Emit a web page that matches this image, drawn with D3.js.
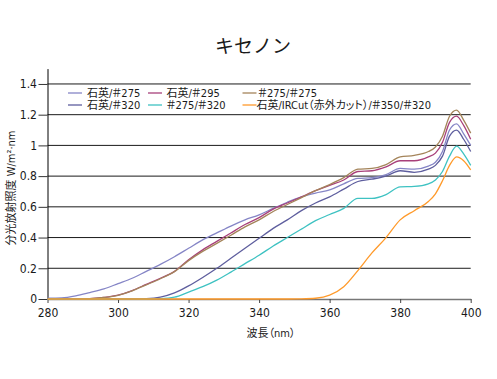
<!DOCTYPE html>
<html>
<head>
<meta charset="utf-8">
<script src="https://cdn.jsdelivr.net/npm/d3@7"></script>
<style>
  html, body { margin: 0; padding: 0; background: #fff; }
  svg { display: block; }
  text { font-family: "Liberation Sans Narrow", "DejaVu Sans Condensed", "Noto Sans CJK JP", sans-serif; }
  .palt { font-feature-settings: "palt"; }
</style>
</head>
<body>
<svg id="chart" width="497" height="379"></svg>
<script>
// ---- data ----
const title = "キセノン";
const xTitle = "波長（nm）";
const yTitle = "分光放射照度 W/m²·nm";
const xTicks = [280, 300, 320, 340, 360, 380, 400];
const yTicks = [0, 0.2, 0.4, 0.6, 0.8, 1, 1.2, 1.4];
const yTickLabels = ["0", "0.2", "0.4", "0.6", "0.8", "1", "1.2", "1.4"];

const wavelengths = [280, 284, 288, 292, 296, 300, 304, 308, 312, 316, 320, 324, 328, 332, 336, 340, 344, 348, 352, 356, 360, 364, 368, 372, 376, 380, 384, 388, 390, 392, 394, 396, 398, 400];

const seriesNames = ["石英/＃275", "石英/＃295", "＃275/＃275", "石英/＃320", "＃275/＃320", "石英/IRCut（赤外カット）/＃350/＃320"];
const seriesColors = ["#8585c6", "#a8407a", "#a4845a", "#5e5e9e", "#3ec2c2", "#ff9a2a"];

const quartz275 = [0.005, 0.007, 0.02, 0.042, 0.066, 0.1, 0.135, 0.18, 0.225, 0.275, 0.33, 0.385, 0.43, 0.475, 0.515, 0.548, 0.59, 0.63, 0.665, 0.69, 0.71, 0.75, 0.785, 0.79, 0.81, 0.85, 0.845, 0.865, 0.89, 0.96, 1.10, 1.14, 1.075, 1.0];
const quartz295 = [0, 0, 0, 0.002, 0.01, 0.025, 0.055, 0.095, 0.135, 0.18, 0.255, 0.32, 0.375, 0.43, 0.485, 0.53, 0.585, 0.625, 0.665, 0.705, 0.74, 0.775, 0.83, 0.835, 0.86, 0.9, 0.9, 0.925, 0.95, 1.02, 1.15, 1.19, 1.13, 1.04];
const f275f275 = [0, 0, 0, 0.002, 0.01, 0.024, 0.053, 0.092, 0.132, 0.178, 0.25, 0.31, 0.362, 0.415, 0.47, 0.515, 0.57, 0.615, 0.66, 0.705, 0.745, 0.79, 0.845, 0.85, 0.875, 0.925, 0.935, 0.96, 0.99, 1.06, 1.19, 1.23, 1.165, 1.08];
const quartz320 = [0, 0, 0, 0, 0, 0, 0, 0.002, 0.012, 0.04, 0.085, 0.14, 0.2, 0.265, 0.33, 0.395, 0.46, 0.515, 0.575, 0.625, 0.665, 0.715, 0.765, 0.78, 0.8, 0.835, 0.825, 0.845, 0.87, 0.93, 1.06, 1.10, 1.04, 0.96];
const f275f320 = [0, 0, 0, 0, 0, 0, 0, 0, 0.002, 0.012, 0.045, 0.08, 0.123, 0.175, 0.23, 0.285, 0.345, 0.4, 0.455, 0.51, 0.55, 0.59, 0.655, 0.655, 0.68, 0.73, 0.733, 0.75, 0.775, 0.83, 0.93, 0.995, 0.945, 0.87];
const irCut = [0, 0, 0, 0, 0, 0, 0, 0, 0, 0, 0, 0, 0, 0, 0, 0, 0, 0, 0.001, 0.005, 0.025, 0.08, 0.185, 0.3, 0.4, 0.515, 0.575, 0.635, 0.685, 0.77, 0.87, 0.925, 0.9, 0.84];

const seriesValues = [quartz275, quartz295, f275f275, quartz320, f275f320, irCut];

// ---- drawing ----
const svg = d3.select("#chart");
const x = d3.scaleLinear().domain([280, 400]).range([47.5, 470.7]);
const y = d3.scaleLinear().domain([0, 1.5]).range([299, 68.6]);

// title
svg.append("text")
  .attr("x", 253).attr("y", 53)
  .attr("text-anchor", "middle")
  .style("font-family", "'Noto Sans CJK JP', sans-serif")
  .style("font-size", "19px")
  .attr("fill", "#1a1a1a")
  .text(title);

// gridlines
svg.append("g").selectAll("line")
  .data(yTicks.filter(d => d > 0))
  .join("line")
  .attr("x1", x(280)).attr("x2", x(400))
  .attr("y1", d => y(d)).attr("y2", d => y(d))
  .attr("stroke", "#1a1a1a").attr("stroke-width", 1);

// y axis
const yAxis = svg.append("g")
  .attr("transform", `translate(${x(280)},0)`)
  .call(d3.axisLeft(y).tickValues(yTicks).tickSize(9).tickSizeOuter(0).tickPadding(1.5)
    .tickFormat((d, i) => yTickLabels[i]));
yAxis.select(".domain").attr("stroke", "#000");
yAxis.selectAll(".tick line").attr("stroke", "#333");
yAxis.selectAll("text").style("font-size", "12px").attr("fill", "#1a1a1a");

// x axis
const xAxis = svg.append("g")
  .attr("transform", `translate(0,${y(0)})`)
  .call(d3.axisBottom(x).tickValues(xTicks).tickSize(4).tickSizeOuter(0).tickPadding(5.3));
xAxis.select(".domain").attr("stroke", "#777").attr("stroke-width", 1.5);
xAxis.selectAll(".tick line").attr("stroke", "#444");
xAxis.selectAll("text").style("font-size", "12px").attr("fill", "#1a1a1a");

// series
const line = d3.line()
  .x((d, i) => x(wavelengths[i]))
  .y(d => y(d))
  .curve(d3.curveMonotoneX);

svg.append("g").selectAll("path")
  .data(seriesValues)
  .join("path")
  .attr("d", d => line(d))
  .attr("fill", "none")
  .attr("stroke", (d, i) => seriesColors[i])
  .attr("stroke-width", 1.3);

// legend
const legendPos = [
  { lx: 68, tx: 87, y: 93 },
  { lx: 148, tx: 166.5, y: 93 },
  { lx: 242.5, tx: 258, y: 93 },
  { lx: 68, tx: 87, y: 105 },
  { lx: 148, tx: 166.5, y: 105 },
  { lx: 242.5, tx: 256.5, y: 105 }
];
const lg = svg.append("g").selectAll("g")
  .data(seriesNames)
  .join("g");
lg.append("line")
  .attr("x1", (d, i) => legendPos[i].lx)
  .attr("x2", (d, i) => legendPos[i].lx + 14)
  .attr("y1", (d, i) => legendPos[i].y)
  .attr("y2", (d, i) => legendPos[i].y)
  .attr("stroke", (d, i) => seriesColors[i])
  .attr("stroke-width", 1.3);
lg.append("text")
  .attr("class", "palt")
  .attr("x", (d, i) => legendPos[i].tx)
  .attr("y", (d, i) => legendPos[i].y + 4)
  .style("font-size", "11px")
  .attr("fill", "#1a1a1a")
  .text(d => d);

// axis titles
svg.append("text")
  .attr("class", "palt")
  .attr("x", 271).attr("y", 337)
  .attr("text-anchor", "middle")
  .style("font-size", "11px")
  .attr("fill", "#1a1a1a")
  .text(xTitle);

svg.append("text")
  .attr("transform", "translate(15,188) rotate(-90)")
  .attr("text-anchor", "middle")
  .style("font-size", "11px")
  .attr("fill", "#1a1a1a")
  .text(yTitle);
</script>
</body>
</html>
